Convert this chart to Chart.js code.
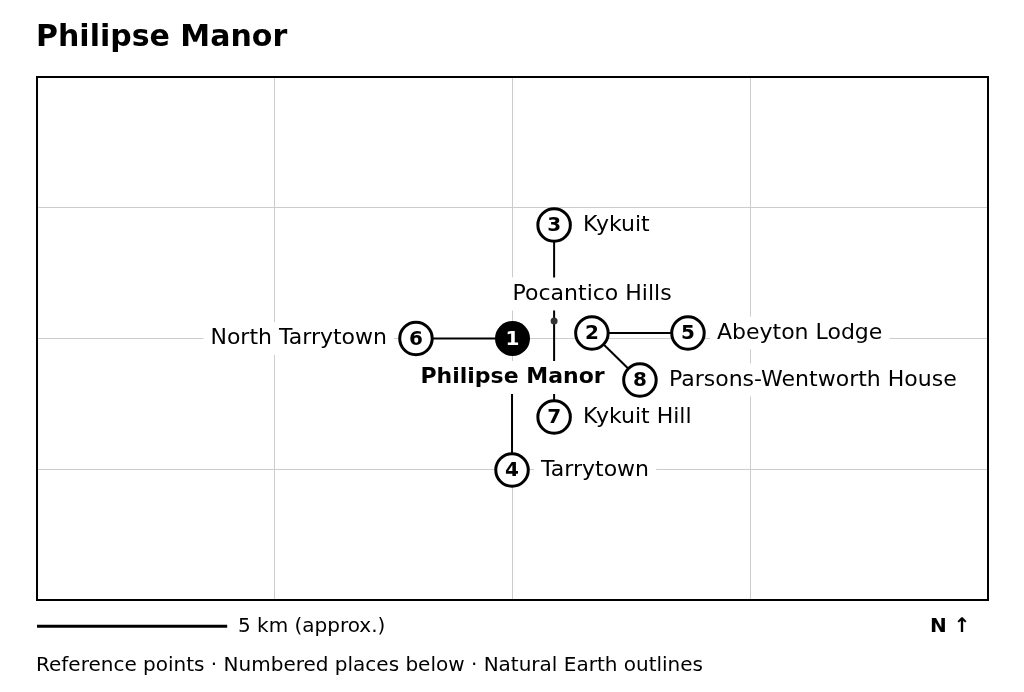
<!DOCTYPE html>
<html>
<head>
<meta charset="utf-8">
<title>Philipse Manor</title>
<script src="https://cdn.jsdelivr.net/npm/chart.js@4"></script>
<style>
	html,body{margin:0;padding:0;background:#fff;overflow:hidden;}
	#plot{position:absolute;left:0;top:0;}
	.txt{position:absolute;font-family:"DejaVu Sans",sans-serif;color:#000;white-space:nowrap;line-height:1;}
	#title{left:36px;top:21px;font-size:30px;font-weight:bold;}
	#scale{left:238px;top:615px;font-size:20px;}
	#north{left:930px;top:615px;font-size:20px;font-weight:bold;}
	#note{left:36px;top:654px;font-size:20px;}
</style>
</head>
<body>
<canvas id="plot" width="1024" height="692"></canvas>
<div class="txt" id="title">Philipse Manor</div>
<div class="txt" id="scale">5 km (approx.)</div>
<div class="txt" id="north">N ↑</div>
<div class="txt" id="note">Reference points · Numbered places below · Natural Earth outlines</div>
<script>
// places, index 0 is the main one, 8 has no number, 9 is only where the leader to Tarrytown starts (under the label)
const places=["Philipse Manor","","Kykuit","Tarrytown","Abeyton Lodge","North Tarrytown","Kykuit Hill","Parsons-Wentworth House","Pocantico Hills",""];
const numbers=["1","2","3","4","5","6","7","8","",""];
const placeX=[2.0,2.334,2.175,1.998,2.738,1.594,2.175,2.536,2.175,1.998];
const placeY=[2.0,2.042,2.868,0.994,2.042,2.0,1.40,1.683,2.134,1.7];
// leader lines between places (indexes)
const linkFrom=[0,9,1,1,2,8];
const linkTo=[5,3,4,7,8,6];
const scaleBarX=[0,0.8];
const scaleBarY=[-0.2,-0.2];

function xy(i){return {x:placeX[i],y:placeY[i]};}

const datasets=[];
// markers go first so they are drawn on top
datasets.push({
	type:"scatter",
	data:[0].map(xy),
	pointRadius:17.5,
	pointBackgroundColor:"#000",
	pointBorderColor:"#000",
	pointBorderWidth:0
});
datasets.push({
	type:"scatter",
	data:[1,2,3,4,5,6,7].map(xy),
	pointRadius:16.25,
	pointBackgroundColor:"#fff",
	pointBorderColor:"#000",
	pointBorderWidth:3
});
datasets.push({
	type:"scatter",
	data:[8].map(xy),
	pointRadius:3.5,
	pointBackgroundColor:"#333",
	pointBorderWidth:0
});
for (var i=0;i<linkFrom.length;i++){
	datasets.push({
		type:"line",
		data:[xy(linkFrom[i]),xy(linkTo[i])],
		borderColor:"#000",
		borderWidth:2,
		pointRadius:0,
		fill:false
	});
}
datasets.push({
	type:"line",
	data:scaleBarX.map((x,n)=>({x:x,y:scaleBarY[n]})),
	borderColor:"#000",
	borderWidth:3,
	pointRadius:0,
	clip:false
});

const mapLabels={
	id:"mapLabels",
	afterDatasetsDraw(chart){
		const c=chart.ctx, sx=chart.scales.x, sy=chart.scales.y;
		c.save();
		c.textBaseline="middle";
		for (var i=0;i<places.length;i++){
			if (places[i]=="") continue;
			var px=sx.getPixelForValue(placeX[i]), py=sy.getPixelForValue(placeY[i]);
			var tx=px+29, ty=py, align="left";
			if (i==0){tx=px;ty=py+39;align="center";}
			if (i==5){tx=px-29;align="right";}
			if (i==8){tx=px+38;ty=py-27;align="center";}
			c.font=(i==0?"bold ":"")+"22px 'DejaVu Sans'";
			var w=c.measureText(places[i]).width;
			var left=align=="left"?tx:(align=="right"?tx-w:tx-w/2);
			c.fillStyle="#fff";
			c.fillRect(left-7,ty-16.5,w+14,33);
			c.fillStyle="#000";
			c.textAlign=align;
			c.fillText(places[i],tx,ty);
		}
		// numbers in the circles
		c.font="bold 20px 'DejaVu Sans'";
		c.textAlign="center";
		for (var i=0;i<numbers.length;i++){
			if (numbers[i]=="") continue;
			c.fillStyle=i==0?"#fff":"#000";
			c.fillText(numbers[i],sx.getPixelForValue(placeX[i]),sy.getPixelForValue(placeY[i])+1);
		}
		// frame
		const a=chart.chartArea;
		c.strokeStyle="#000";
		c.lineWidth=2;
		c.strokeRect(a.left,a.top,a.right-a.left,a.bottom-a.top);
		c.restore();
	}
};

const plot=document.getElementById("plot");
const myChart=new Chart(plot,{
	data:{datasets:datasets},
	plugins:[mapLabels],
	options:{
		responsive:false,
		animation:false,
		devicePixelRatio:1,
		layout:{padding:{left:37,top:77,right:36,bottom:92}},
		plugins:{legend:{display:false},tooltip:{enabled:false}},
		scales:{
			x:{type:"linear",min:0,max:4,
				ticks:{display:false,stepSize:1},
				grid:{color:"#cccccc",lineWidth:1,drawTicks:false},
				border:{display:false}},
			y:{type:"linear",min:0,max:4,
				ticks:{display:false,stepSize:1},
				grid:{color:"#cccccc",lineWidth:1,drawTicks:false},
				border:{display:false}}
		}
	}
});
</script>
</body>
</html>
